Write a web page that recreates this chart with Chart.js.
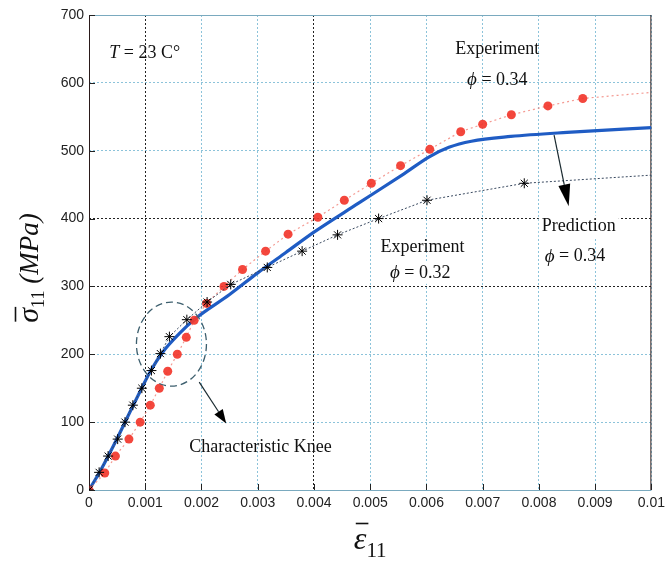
<!DOCTYPE html>
<html>
<head>
<meta charset="utf-8">
<script src="https://cdn.jsdelivr.net/npm/chart.js@4/dist/chart.umd.min.js"></script>
<style>
  html, body { margin: 0; padding: 0; background: #fff; }
</style>
</head>
<body>
<canvas id="grafico" width="670" height="568"></canvas>
<script>
// Experiment, phi = 0.34 (red dots); last point only ends the dotted line
const strainExp34 = [0, 0.00028, 0.00047, 0.00071, 0.00091, 0.00109, 0.00125, 0.0014, 0.00157, 0.00173, 0.00187, 0.00209, 0.0024, 0.00273, 0.00314, 0.00354, 0.00407, 0.00454, 0.00502, 0.00554, 0.00606, 0.00661, 0.007, 0.00751, 0.00816, 0.00878, 0.01];
const stressExp34 = [0, 25, 50, 75, 100, 125, 150, 175, 200, 225, 250, 275, 300, 325, 352, 377, 402, 427, 452, 478, 502, 528, 539, 553, 566, 577, 586];

// Experiment, phi = 0.32 (black stars); last point only ends the dotted line
const strainExp32 = [0, 0.00018, 0.00034, 0.00051, 0.00064, 0.00078, 0.00094, 0.00111, 0.00127, 0.00143, 0.00174, 0.0021, 0.00252, 0.00317, 0.00379, 0.00442, 0.00515, 0.00601, 0.00774, 0.01];
const stressExp32 = [0, 26, 50, 75, 100, 125, 150, 176, 201, 226, 251, 277, 303, 328, 352, 376, 400, 427, 452, 464];

// Prediction, phi = 0.34 (blue line)
const strainPred = [0, 0.0002, 0.0005, 0.0008, 0.0011, 0.0013, 0.0016, 0.0019, 0.0025, 0.003, 0.0035, 0.004, 0.0048, 0.0056, 0.00605, 0.0064, 0.0068, 0.0075, 0.0085, 0.01];
const stressPred = [0, 28, 76, 127, 176, 202, 230, 253, 288, 320, 350, 380, 423, 466, 491, 505, 514, 521, 527, 534];

const xTickLabels = ["0", "0.001", "0.002", "0.003", "0.004", "0.005", "0.006", "0.007", "0.008", "0.009", "0.01"];
const yTickLabels = ["0", "100", "200", "300", "400", "500", "600", "700"];

const xBlackGrid = [0.001, 0.004];
const yBlackGrid = [300, 400];

const serif = '"Liberation Serif", "DejaVu Serif", serif';
const sans = '"Liberation Sans", Arial, sans-serif';
const PHI = '\u03D5';

function pares(xs, ys) {
    return xs.map((x, i) => ({ x: x, y: ys[i] }));
}

function esNegra(lista, v) {
    return lista.some(n => Math.abs(n - v) < 1e-9);
}

// text with italic phi
function textoPhi(ctx, num, cx, cy) {
    ctx.font = 'italic 19px ' + serif;
    const w1 = ctx.measureText(PHI).width;
    ctx.font = '18px ' + serif;
    const resto = ' = ' + num;
    const w2 = ctx.measureText(resto).width;
    let x0 = cx - (w1 + w2) / 2;
    ctx.textAlign = 'left';
    ctx.font = 'italic 19px ' + serif;
    ctx.fillText(PHI, x0, cy);
    ctx.font = '18px ' + serif;
    ctx.fillText(resto, x0 + w1, cy);
    return w1 + w2;
}

function flecha(ctx, x1, y1, x2, y2, largo, ancho) {
    const ang = Math.atan2(y2 - y1, x2 - x1);
    const bx = x2 - largo * Math.cos(ang);
    const by = y2 - largo * Math.sin(ang);
    ctx.beginPath();
    ctx.moveTo(x1, y1);
    ctx.lineTo(bx, by);
    ctx.stroke();
    ctx.beginPath();
    ctx.moveTo(x2, y2);
    ctx.lineTo(bx + ancho * Math.sin(ang), by - ancho * Math.cos(ang));
    ctx.lineTo(bx - ancho * Math.sin(ang), by + ancho * Math.cos(ang));
    ctx.closePath();
    ctx.fill();
}

const marcoPlugin = {
    id: 'marco',
    beforeDatasetsDraw(chart) {
        const { ctx, chartArea: a, scales } = chart;
        ctx.save();
        ctx.lineWidth = 1;
        // top / bottom
        ctx.strokeStyle = '#7aaabf';
        ctx.beginPath();
        ctx.moveTo(a.left, a.top + 0.5); ctx.lineTo(a.right, a.top + 0.5);
        ctx.moveTo(a.left, a.bottom + 0.5); ctx.lineTo(a.right, a.bottom + 0.5);
        ctx.stroke();
        // left / right
        ctx.strokeStyle = '#2a1a1a';
        ctx.beginPath();
        ctx.moveTo(a.left + 0.5, a.top); ctx.lineTo(a.left + 0.5, a.bottom);
        ctx.moveTo(a.right - 0.5, a.top); ctx.lineTo(a.right - 0.5, a.bottom);
        ctx.stroke();
        // inner ticks
        ctx.strokeStyle = '#222';
        ctx.beginPath();
        scales.x.ticks.forEach(t => {
            const px = Math.round(scales.x.getPixelForValue(t.value)) + 0.5;
            ctx.moveTo(px, a.bottom); ctx.lineTo(px, a.bottom - 6);
        });
        scales.y.ticks.forEach(t => {
            const py = Math.round(scales.y.getPixelForValue(t.value)) + 0.5;
            ctx.moveTo(a.left, py); ctx.lineTo(a.left + 6, py);
        });
        ctx.stroke();
        ctx.restore();
    },
    afterDatasetsDraw(chart) {
        const { ctx, scales: { x, y } } = chart;
        const px = v => x.getPixelForValue(v);
        const py = v => y.getPixelForValue(v);
        ctx.save();
        ctx.fillStyle = '#111';
        ctx.textBaseline = 'middle';

        // T = 23 C°
        ctx.textAlign = 'left';
        ctx.font = 'italic 18px ' + serif;
        const tx = px(0.00036), ty = py(644);
        ctx.fillText('T', tx, ty);
        const wT = ctx.measureText('T').width;
        ctx.font = '18px ' + serif;
        ctx.fillText(' = 23 C\u00B0', tx + wT, ty);

        // Experiment phi = 0.34
        ctx.textAlign = 'center';
        ctx.font = '18px ' + serif;
        ctx.fillText('Experiment', px(0.00726), py(649));
        textoPhi(ctx, '0.34', px(0.00726), py(604));

        // white boxes behind labels
        ctx.fillStyle = '#fff';
        ctx.fillRect(px(0.00593) - 32, py(320) - 11, 64, 22);
        ctx.fillRect(px(0.00871) - 40, py(388) - 11, 80, 22);
        ctx.fillStyle = '#111';

        // Experiment phi = 0.32
        ctx.textAlign = 'center';
        ctx.font = '18px ' + serif;
        ctx.fillText('Experiment', px(0.00593), py(358));
        textoPhi(ctx, '0.32', px(0.00589), py(320));

        // Prediction phi = 0.34
        ctx.textAlign = 'center';
        ctx.font = '18px ' + serif;
        ctx.fillText('Prediction', px(0.00871), py(388));
        textoPhi(ctx, '0.34', px(0.00864), py(344));

        // Characteristic Knee
        ctx.textAlign = 'center';
        ctx.font = '18px ' + serif;
        ctx.fillText('Characteristic Knee', px(0.00305), py(63));

        // knee ellipse
        ctx.strokeStyle = '#3d5f6e';
        ctx.lineWidth = 1.3;
        ctx.setLineDash([7, 4]);
        ctx.beginPath();
        ctx.ellipse(px(0.001466), py(215), 35, 42, 0, 0, Math.PI * 2);
        ctx.stroke();
        ctx.setLineDash([]);

        // arrows
        ctx.strokeStyle = '#1a2a30';
        ctx.fillStyle = '#000';
        ctx.lineWidth = 1.2;
        flecha(ctx, px(0.00196), py(159), px(0.00244), py(98), 14, 5);
        flecha(ctx, px(0.00827), py(523), px(0.00853), py(418), 22, 6);

        // axis titles
        ctx.fillStyle = '#111';
        ctx.textBaseline = 'alphabetic';
        ctx.textAlign = 'left';
        ctx.font = 'italic 32px ' + serif;
        const we = ctx.measureText('\u03B5').width;
        ctx.font = '21px ' + serif;
        const w11 = ctx.measureText('11').width;
        const ex = (chart.chartArea.left + chart.chartArea.right) / 2 - (we + w11) / 2;
        ctx.font = 'italic 32px ' + serif;
        ctx.fillText('\u03B5', ex, 549);
        ctx.font = '21px ' + serif;
        ctx.fillText('11', ex + we, 557);
        ctx.lineWidth = 1.6;
        ctx.strokeStyle = '#111';
        ctx.beginPath();
        ctx.moveTo(ex + 2, 523.5); ctx.lineTo(ex + we + 2, 523.5);
        ctx.stroke();

        ctx.translate(38, 268);
        ctx.rotate(-Math.PI / 2);
        ctx.font = 'italic 30px ' + serif;
        const ws = ctx.measureText('\u03C3').width;
        ctx.font = '18px ' + serif;
        const ws11 = ctx.measureText('11').width;
        ctx.font = 'italic 27px ' + serif;
        const wm = ctx.measureText(' (MPa)').width;
        let sx = -(ws + ws11 + wm) / 2;
        ctx.font = 'italic 30px ' + serif;
        ctx.fillText('\u03C3', sx, 0);
        ctx.beginPath();
        ctx.moveTo(sx + 1, -22.5); ctx.lineTo(sx + ws + 1, -22.5);
        ctx.stroke();
        ctx.font = '18px ' + serif;
        ctx.fillText('11', sx + ws, 6);
        ctx.font = 'italic 27px ' + serif;
        ctx.fillText(' (MPa)', sx + ws + ws11, 0);
        ctx.restore();
    }
};

const canvas = document.getElementById("grafico");
const ctx = canvas.getContext("2d");

new Chart(ctx, {
    type: 'scatter',
    data: {
        datasets: [
            {
                label: 'Experiment phi=0.32',
                data: pares(strainExp32, stressExp32),
                showLine: true,
                borderColor: '#3a4a60',
                borderWidth: 1,
                borderDash: [2, 2],
                pointStyle: 'star',
                pointRadius: c => c.dataIndex === strainExp32.length - 1 ? 0 : 5,
                pointBorderColor: '#000',
                pointBorderWidth: 1,
                pointBackgroundColor: '#000'
            },
            {
                label: 'Experiment phi=0.34',
                data: pares(strainExp34, stressExp34),
                showLine: true,
                borderColor: 'rgba(240,120,110,0.75)',
                borderWidth: 1.2,
                borderDash: [2, 3],
                pointStyle: 'circle',
                pointRadius: c => c.dataIndex === strainExp34.length - 1 ? 0 : 4.5,
                pointBorderWidth: 0,
                pointBackgroundColor: 'rgba(242,55,45,0.92)'
            },
            {
                label: 'Prediction phi=0.34',
                data: pares(strainPred, stressPred),
                showLine: true,
                borderColor: '#1f5cc4',
                borderWidth: 3.2,
                cubicInterpolationMode: 'monotone',
                pointRadius: 0
            }
        ]
    },
    options: {
        responsive: false,
        animation: false,
        devicePixelRatio: 1,
        layout: { padding: { top: 15, right: 15, left: 0, bottom: 0 } },
        plugins: {
            legend: { display: false },
            tooltip: { enabled: false }
        },
        scales: {
            x: {
                type: 'linear',
                min: 0,
                max: 0.01,
                afterFit: s => { s.height = 78; },
                ticks: {
                    stepSize: 0.001,
                    autoSkip: false,
                    maxRotation: 0,
                    padding: 5,
                    color: '#222',
                    font: { family: sans, size: 14 },
                    callback: (v, i) => xTickLabels[i]
                },
                grid: {
                    drawTicks: false,
                    lineWidth: 1,
                    color: c => esNegra(xBlackGrid, c.tick.value) ? '#222' : '#8cc3da'
                },
                border: { display: false, dash: [2, 2] }
            },
            y: {
                type: 'linear',
                min: 0,
                max: 700,
                afterFit: s => { s.width = 89; },
                ticks: {
                    stepSize: 100,
                    padding: 5,
                    color: '#222',
                    font: { family: sans, size: 14 },
                    callback: (v, i) => yTickLabels[i]
                },
                grid: {
                    drawTicks: false,
                    lineWidth: 1,
                    color: c => esNegra(yBlackGrid, c.tick.value) ? '#222' : '#8cc3da'
                },
                border: { display: false, dash: [2, 2] }
            }
        }
    },
    plugins: [marcoPlugin]
});
</script>
</body>
</html>
